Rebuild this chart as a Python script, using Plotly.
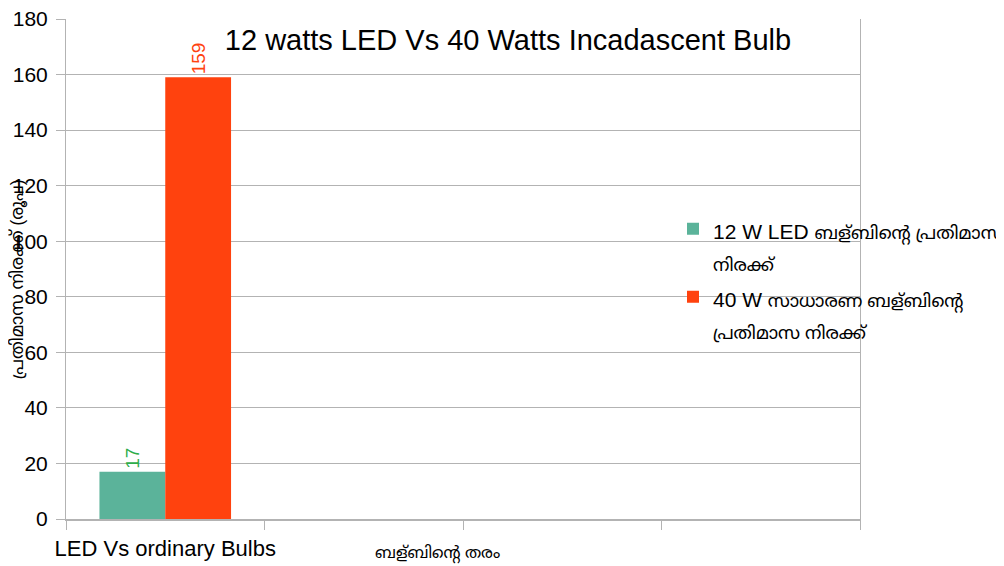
import plotly.graph_objects as go

categories = ["LED Vs ordinary Bulbs", " ", "  ", "   "]
led_values = [17, None, None, None]
incandescent_values = [159, None, None, None]
series_names = [
    ["12 W LED ", "ബള്ബിന്റെ പ്രതിമാസ", "<br>", "നിരക്ക്"],
    ["40 W ", "സാധാരണ ബള്ബിന്റെ", "<br>", "പ്രതിമാസ നിരക്ക്"],
]
y_ticks = [0, 20, 40, 60, 80, 100, 120, 140, 160, 180]
title_text = "12 watts LED Vs 40 Watts Incadascent Bulb"
y_title = "പ്രതിമാസ നിരക്ക് (രൂപ)"
x_title = "ബള്ബിന്റെ തരം"

FONT = "Liberation Sans, Arial, Noto Sans Malayalam, sans-serif"


def legend_label(parts):
    out = []
    for i, part in enumerate(parts):
        if part == "<br>":
            out.append(part)
        elif i == 0:
            out.append('<span style="font-size:21px">' + part + "</span>")
        else:
            out.append('<span style="font-size:18px">' + part + "</span>")
    return "".join(out)


fig = go.Figure()
fig.add_trace(go.Bar(
    x=categories, y=led_values, name=legend_label(series_names[0]), legendgroup="a",
    marker=dict(color="#5bb39a", line=dict(width=0)),
    text=[str(v) if v is not None else "" for v in led_values],
    textposition="outside", textangle=-90, cliponaxis=False,
    textfont=dict(color="#2ead4a", size=19, family=FONT),
))
fig.add_trace(go.Bar(
    x=categories, y=incandescent_values, name=legend_label(series_names[1]), legendgroup="b",
    marker=dict(color="#ff420e", line=dict(width=0)),
    text=[str(v) if v is not None else "" for v in incandescent_values],
    textposition="outside", textangle=-90, cliponaxis=False,
    textfont=dict(color="#ff420e", size=19, family=FONT),
))

fig.update_layout(
    width=996, height=558,
    margin=dict(l=58, r=144, t=11, b=47, autoexpand=False),
    paper_bgcolor="white", plot_bgcolor="white",
    font=dict(family=FONT, size=18, color="#000000"),
    barmode="group", bargap=0.337, bargroupgap=0,
    showlegend=True,
    legend=dict(
        x=0.7645, y=0.626, xanchor="left", yanchor="top", valign="top",
        bgcolor="rgba(0,0,0,0)", font=dict(size=25, family=FONT),
        itemsizing="constant", tracegroupgap=0,
    ),
    title=dict(
        text=title_text,
        x=0.502, xanchor="center", y=0.943, yanchor="middle",
        font=dict(size=29, family=FONT, color="#000000"),
    ),
    xaxis=dict(
        type="category", categoryorder="array", categoryarray=categories,
        tickson="boundaries", ticks="outside", ticklen=9, tickcolor="#b3b3b3",
        showgrid=False, showline=True, linecolor="#b3b3b3", linewidth=1.5,
        tickfont=dict(size=22, family=FONT), zeroline=False, tickangle=0,
        range=[-0.5, 3.5], automargin=False, ticklabelstandoff=9,
        ticklabeloverflow="allow",
    ),
    yaxis=dict(
        range=[0, 180], tickvals=y_ticks, ticks="outside", ticklen=9,
        tickcolor="#b3b3b3", showgrid=True, gridcolor="#b3b3b3", gridwidth=1,
        showline=True, linecolor="#b3b3b3", mirror=True, zeroline=False,
        tickfont=dict(size=21, family=FONT), automargin=False,
        ticklabelstandoff=4, ticklabeloverflow="allow",
    ),
    annotations=[
        dict(
            text=y_title, xref="paper", yref="paper",
            x=(9 - 58) / 794, y=(511 - 272) / 500, xanchor="center", yanchor="middle",
            textangle=-90, showarrow=False, font=dict(size=17.5, family=FONT),
        ),
        dict(
            text=x_title, xref="paper", yref="paper",
            x=(429 - 58) / 794, y=(511 - 546) / 500, xanchor="center", yanchor="middle",
            showarrow=False, font=dict(size=16, family=FONT),
        ),
    ],
)

fig.write_html("out.html")
